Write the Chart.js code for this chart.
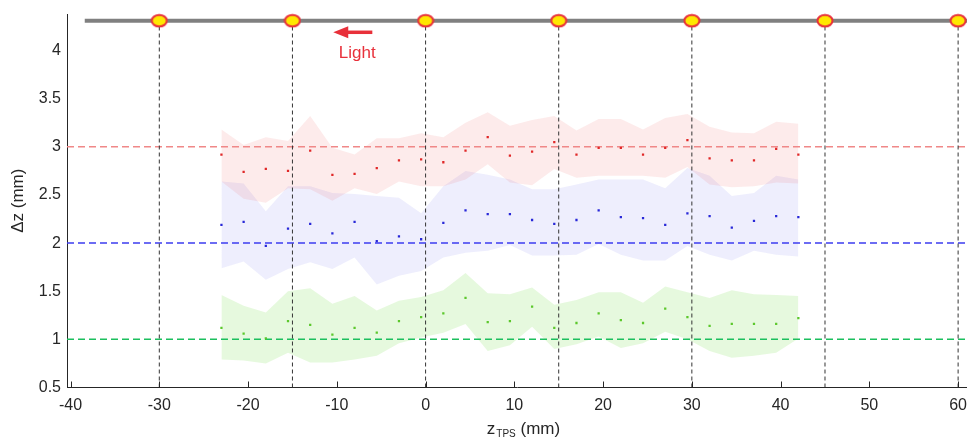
<!DOCTYPE html>
<html>
<head>
<meta charset="utf-8">
<script src="https://cdn.jsdelivr.net/npm/chart.js@4"></script>
<style>
  html, body { margin: 0; padding: 0; background: #fff; }
  #wrap { width: 967px; height: 439px; position: relative; }
</style>
</head>
<body>
<div id="wrap"><canvas id="myChart"></canvas></div>
<script>
// Posizioni lungo z (mm)
const zPos = [-23, -20.5, -18, -15.5, -13, -10.5, -8, -5.5, -3, -0.5, 2, 4.5, 7, 9.5, 12, 14.5, 17, 19.5, 22, 24.5, 27, 29.5, 32, 34.5, 37, 39.5, 42];

// Serie rossa (riferimento 3 mm)
const redMean  = [2.92, 2.74, 2.77, 2.75, 2.96, 2.71, 2.72, 2.78, 2.86, 2.87, 2.84, 2.96, 3.10, 2.91, 2.95, 3.05, 2.92, 2.99, 2.99, 2.92, 2.99, 3.07, 2.88, 2.86, 2.86, 2.98, 2.92];
const redUpper = [3.18, 3.02, 3.10, 3.06, 3.32, 2.99, 2.92, 3.09, 3.09, 3.14, 3.10, 3.25, 3.36, 3.22, 3.28, 3.32, 3.17, 3.29, 3.29, 3.18, 3.30, 3.34, 3.21, 3.15, 3.14, 3.26, 3.24];
const redLower = [2.64, 2.46, 2.42, 2.57, 2.56, 2.44, 2.57, 2.51, 2.64, 2.59, 2.59, 2.66, 2.82, 2.63, 2.60, 2.77, 2.68, 2.70, 2.70, 2.70, 2.68, 2.79, 2.61, 2.58, 2.59, 2.63, 2.62];

// Serie blu (riferimento 2 mm)
const blueMean  = [2.19, 2.22, 1.97, 2.15, 2.20, 2.10, 2.22, 2.02, 2.07, 2.04, 2.21, 2.34, 2.30, 2.30, 2.24, 2.20, 2.24, 2.34, 2.27, 2.26, 2.19, 2.31, 2.28, 2.16, 2.23, 2.28, 2.27];
const blueUpper = [2.64, 2.62, 2.33, 2.59, 2.59, 2.52, 2.51, 2.49, 2.47, 2.31, 2.59, 2.75, 2.71, 2.66, 2.56, 2.56, 2.61, 2.66, 2.66, 2.66, 2.57, 2.78, 2.70, 2.49, 2.52, 2.70, 2.66];
const blueLower = [1.74, 1.81, 1.62, 1.73, 1.80, 1.73, 1.85, 1.57, 1.66, 1.71, 1.85, 1.90, 1.92, 1.98, 1.87, 1.87, 1.88, 1.99, 1.88, 1.82, 1.82, 1.97, 1.88, 1.82, 1.92, 1.88, 1.86];

// Serie verde (riferimento 1 mm)
const greenMean  = [1.12, 1.06, 1.01, 1.19, 1.15, 1.05, 1.12, 1.07, 1.19, 1.23, 1.27, 1.43, 1.18, 1.19, 1.34, 1.12, 1.17, 1.27, 1.20, 1.17, 1.32, 1.23, 1.14, 1.16, 1.16, 1.16, 1.22];
const greenUpper = [1.46, 1.35, 1.28, 1.50, 1.53, 1.37, 1.45, 1.30, 1.40, 1.44, 1.51, 1.69, 1.48, 1.47, 1.54, 1.36, 1.41, 1.49, 1.49, 1.38, 1.55, 1.49, 1.43, 1.51, 1.47, 1.46, 1.45];
const greenLower = [0.79, 0.78, 0.75, 0.86, 0.76, 0.76, 0.79, 0.83, 0.96, 1.02, 1.07, 1.16, 0.88, 0.94, 1.13, 0.90, 0.95, 1.03, 0.91, 0.96, 1.08, 1.00, 0.88, 0.81, 0.83, 0.86, 1.01];

// Linee di riferimento e marker in alto
const refLevels = [3, 2, 1];
const markerZ = [-30, -15, 0, 15, 30, 45, 60];
const markerLevel = 4.31;
const barFrom = -38.4;
const barTo = 61.5;

// Tick degli assi
const xTicks = [-40, -30, -20, -10, 0, 10, 20, 30, 40, 50, 60];
const yTicks = [0.5, 1, 1.5, 2, 2.5, 3, 3.5, 4];
const xMin = -40.4, xMax = 61;
const yMin = 0.5, yMax = 4.38;

const FONT = "'Liberation Sans', Arial, sans-serif";
const TEXT = '#262626';
const LIGHT_RED = '#e8303a';

function pts(ys) {
    return zPos.map((z, i) => ({ x: z, y: ys[i] }));
}

// Marker ellittico giallo con bordo rosso
function makeMarker() {
    const c = document.createElement('canvas');
    c.width = 18; c.height = 15;
    const g = c.getContext('2d');
    g.beginPath();
    g.ellipse(9, 7.5, 7.5, 5.8, 0, 0, Math.PI * 2);
    g.fillStyle = '#ffe800';
    g.fill();
    g.lineWidth = 2;
    g.strokeStyle = LIGHT_RED;
    g.stroke();
    return c;
}

function band(data, color, fill) {
    return {
        data: pts(data), showLine: true, borderWidth: 0, pointRadius: 0,
        backgroundColor: color, fill: fill, order: 6, tension: 0
    };
}

const datasets = [
    band(redUpper, 'rgba(240,60,60,0.10)', '+1'),
    band(redLower, 'rgba(240,60,60,0.10)', false),
    band(blueUpper, 'rgba(60,60,230,0.085)', '+1'),
    band(blueLower, 'rgba(60,60,230,0.085)', false),
    band(greenUpper, 'rgba(80,210,20,0.14)', '+1'),
    band(greenLower, 'rgba(80,210,20,0.14)', false)
];

const refColors = ['#f08888', '#3c3cf0', '#1cbf5e'];
refLevels.forEach((lvl, i) => {
    datasets.push({
        data: [{ x: xMin, y: lvl }, { x: xMax, y: lvl }],
        showLine: true, borderColor: refColors[i], borderWidth: 1.5,
        borderDash: [7, 4], pointRadius: 0, fill: false, order: 5
    });
});

markerZ.forEach(z => {
    datasets.push({
        data: [{ x: z, y: yMin }, { x: z, y: markerLevel }],
        showLine: true, borderColor: '#333', borderWidth: 1,
        borderDash: [4, 3], pointRadius: 0, fill: false, order: 4
    });
});

datasets.push({
    data: [{ x: barFrom, y: markerLevel }, { x: barTo, y: markerLevel }],
    showLine: true, borderColor: '#808080', borderWidth: 4,
    pointRadius: 0, fill: false, order: 3, clip: false
});

const markerImg = makeMarker();
datasets.push({
    data: markerZ.map(z => ({ x: z, y: markerLevel })),
    showLine: false, pointStyle: markerImg, pointRadius: 8, order: 2, clip: false
});

[[redMean, '#e02828'], [blueMean, '#2828d8'], [greenMean, '#5cc82c']].forEach(([s, col]) => {
    datasets.push({
        data: pts(s), showLine: false, pointStyle: 'rect', pointRadius: 1.6,
        pointBorderWidth: 0, backgroundColor: col, borderColor: col, order: 0
    });
});

// Plugin: tick interni, freccia "Light" e titoli degli assi
const extras = {
    id: 'extras',
    afterDraw(chart) {
        const c = chart.ctx;
        const xs = chart.scales.x, ys = chart.scales.y;
        const area = chart.chartArea;
        c.save();
        c.strokeStyle = TEXT;
        c.lineWidth = 1;
        xTicks.forEach(v => {
            const px = Math.round(xs.getPixelForValue(v)) + 0.5;
            c.beginPath();
            c.moveTo(px, area.bottom);
            c.lineTo(px, area.bottom - 6);
            c.stroke();
        });

        // Freccia
        const ay = ys.getPixelForValue(4.19);
        const tail = xs.getPixelForValue(-6.0);
        const tip = xs.getPixelForValue(-10.4);
        c.strokeStyle = LIGHT_RED;
        c.fillStyle = LIGHT_RED;
        c.lineWidth = 3.5;
        c.beginPath();
        c.moveTo(tail, ay);
        c.lineTo(tip + 12, ay);
        c.stroke();
        c.beginPath();
        c.moveTo(tip, ay);
        c.lineTo(tip + 15, ay - 6);
        c.lineTo(tip + 15, ay + 6);
        c.closePath();
        c.fill();
        c.font = '17px ' + FONT;
        c.textAlign = 'center';
        c.textBaseline = 'middle';
        c.fillText('Light', xs.getPixelForValue(-7.7), ys.getPixelForValue(3.97));

        // Titolo asse y
        c.fillStyle = TEXT;
        c.save();
        c.translate(18, (area.top + area.bottom) / 2);
        c.rotate(-Math.PI / 2);
        c.font = '17px ' + FONT;
        c.textAlign = 'center';
        c.textBaseline = 'middle';
        c.fillText('\u0394z (mm)', 0, 0);
        c.restore();

        // Titolo asse x con pedice
        c.textAlign = 'left';
        c.textBaseline = 'alphabetic';
        c.font = '17px ' + FONT;
        const wz = c.measureText('z').width;
        const wr = c.measureText(' (mm)').width;
        c.font = '10px ' + FONT;
        const ws = c.measureText('TPS').width;
        const total = wz + ws + wr;
        let x0 = (area.left + area.right) / 2 + 6 - total / 2;
        const base = 434;
        c.font = '17px ' + FONT;
        c.fillText('z', x0, base);
        c.font = '10px ' + FONT;
        c.fillText('TPS', x0 + wz + 1, base + 3);
        c.font = '17px ' + FONT;
        c.fillText(' (mm)', x0 + wz + ws + 1, base);
        c.restore();
    }
};

const ctx = document.getElementById('myChart');

new Chart(ctx, {
    type: 'scatter',
    data: { datasets: datasets },
    options: {
        responsive: true,
        maintainAspectRatio: false,
        animation: false,
        events: [],
        layout: { autoPadding: false, padding: { top: 14, right: 0, left: 0, bottom: 0 } },
        plugins: {
            legend: { display: false },
            tooltip: { enabled: false }
        },
        scales: {
            x: {
                type: 'linear', min: xMin, max: xMax,
                grid: { display: false, drawTicks: false },
                border: { display: true, color: TEXT, width: 1 },
                ticks: {
                    color: TEXT, font: { family: FONT, size: 16 },
                    padding: 8, maxRotation: 0, autoSkip: false,
                    callback: v => String(v)
                },
                afterBuildTicks: s => { s.ticks = xTicks.map(v => ({ value: v })); },
                afterFit: s => { s.height = 439 - 387.5; s.paddingLeft = 0; s.paddingRight = 0; }
            },
            y: {
                type: 'linear', min: yMin, max: yMax,
                grid: { display: false, drawTicks: false },
                border: { display: true, color: TEXT, width: 1 },
                ticks: {
                    color: TEXT, font: { family: FONT, size: 16 },
                    padding: 6, autoSkip: false,
                    callback: v => String(v)
                },
                afterBuildTicks: s => { s.ticks = yTicks.map(v => ({ value: v })); },
                afterFit: s => { s.width = 67; s.paddingTop = 0; s.paddingBottom = 0; }
            }
        }
    },
    plugins: [extras]
});
</script>
</body>
</html>
